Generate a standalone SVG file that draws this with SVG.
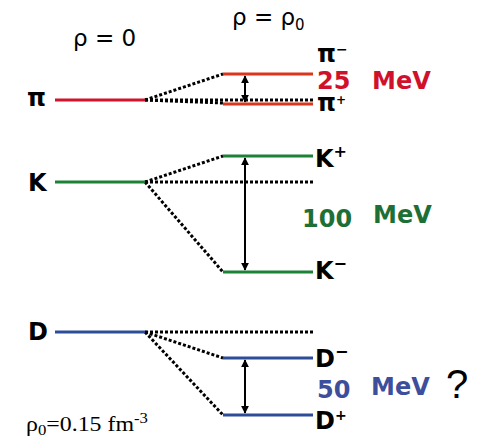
<svg xmlns="http://www.w3.org/2000/svg" width="483" height="441" viewBox="0 0 483 441">
<defs>
<marker id="ah" viewBox="0 0 10 10" refX="9" refY="5" markerWidth="4" markerHeight="4" orient="auto-start-reverse" markerUnits="strokeWidth">
<path d="M0,0 L10,5 L0,10 z" fill="#000"/>
</marker>
<style>
.lbl{font-family:"DejaVu Sans",Verdana,sans-serif;font-weight:bold;font-size:24px;fill:#000}
.hdr{font-family:"DejaVu Sans",Verdana,sans-serif;font-size:23px;fill:#000}
.num{font-family:"DejaVu Sans",Verdana,sans-serif;font-weight:bold;font-size:24px}
.dot{stroke:#000;stroke-width:3;stroke-dasharray:3 2;fill:none}
.arr{stroke:#000;stroke-width:2;fill:none;marker-start:url(#ah);marker-end:url(#ah)}
.lv{stroke-width:3;fill:none}
.red{stroke:#d3122c}.red2{stroke:#d9361e}.grn{stroke:#1c8236}.blu{stroke:#2d4c9a}
</style>
</defs>
<rect width="483" height="441" fill="#fff"/>
<g id="headers">
<text class="hdr" x="73" y="46">ρ = 0</text>
<text class="hdr" x="232" y="25">ρ = ρ<tspan font-size="15" dy="5">0</tspan></text>
</g>
<g id="connectors">
<line class="dot" x1="145" y1="100" x2="223" y2="74"/>
<line class="dot" x1="145" y1="100" x2="223" y2="103"/>
<line class="dot" x1="145" y1="100" x2="313" y2="100"/>
<line class="dot" x1="145" y1="182" x2="223" y2="156"/>
<line class="dot" x1="145" y1="182" x2="313" y2="182"/>
<line class="dot" x1="145" y1="182" x2="223" y2="272"/>
<line class="dot" x1="145" y1="332" x2="313" y2="332"/>
<line class="dot" x1="145" y1="332" x2="223" y2="358"/>
<line class="dot" x1="145" y1="332" x2="223" y2="415"/>
<line class="arr" x1="245" y1="76" x2="245" y2="102"/>
<line class="arr" x1="245" y1="158" x2="245" y2="270"/>
<line class="arr" x1="245" y1="360" x2="245" y2="413"/>
</g>
<g id="pi">
<line class="lv red" x1="55" y1="100" x2="145" y2="100"/>
<text class="lbl" x="27" y="106" font-size="20">π</text>
<line class="lv red2" x1="223" y1="74" x2="313" y2="74"/>
<line class="lv red2" x1="223" y1="104" x2="313" y2="104"/>
<text class="lbl" x="317" y="62" font-size="20">π<tspan font-size="14" dy="-8">−</tspan></text>
<text class="lbl" x="317" y="111" font-size="17">π<tspan font-size="12" dy="-7">+</tspan></text>
<text class="num" x="317" y="89" fill="#d0112b">25</text>
<text class="num" x="372" y="89" fill="#d0112b">MeV</text>
</g>
<g id="K">
<line class="lv grn" x1="55" y1="182" x2="145" y2="182"/>
<text class="lbl" x="28" y="191">K</text>
<line class="lv grn" x1="223" y1="156" x2="313" y2="156"/>
<line class="lv grn" x1="223" y1="272" x2="313" y2="272"/>
<text class="lbl" x="315" y="167">K<tspan font-size="16" dy="-10">+</tspan></text>
<text class="lbl" x="315" y="279">K<tspan font-size="16" dy="-10">−</tspan></text>
<text class="num" x="302" y="227" fill="#1d6f35">100</text>
<text class="num" x="373" y="223" fill="#1d6f35">MeV</text>
</g>
<g id="D">
<line class="lv blu" x1="55" y1="332" x2="145" y2="332"/>
<text class="lbl" x="28" y="340">D</text>
<line class="lv blu" x1="223" y1="358" x2="313" y2="358"/>
<line class="lv blu" x1="223" y1="415" x2="313" y2="415"/>
<text class="lbl" x="315" y="367">D<tspan font-size="16" dy="-10">−</tspan></text>
<text class="lbl" x="315" y="429">D<tspan font-size="14" dy="-9">+</tspan></text>
<text class="num" x="317" y="398" fill="#3d4f9c">50</text>
<text class="num" x="371" y="395" fill="#3d4f9c">MeV</text>
<text x="446" y="398" font-family="'Liberation Sans',Arial,sans-serif" font-size="40" fill="#000">?</text>
</g>
<g id="note">
<text x="26" y="431" font-family="'Liberation Serif','Times New Roman',serif" font-size="20" fill="#000" textLength="122" lengthAdjust="spacingAndGlyphs">ρ<tspan font-size="14" dy="4">0</tspan><tspan dy="-4">=0.15 fm</tspan><tspan font-size="14" dy="-8">-3</tspan></text>
</g>
</svg>
